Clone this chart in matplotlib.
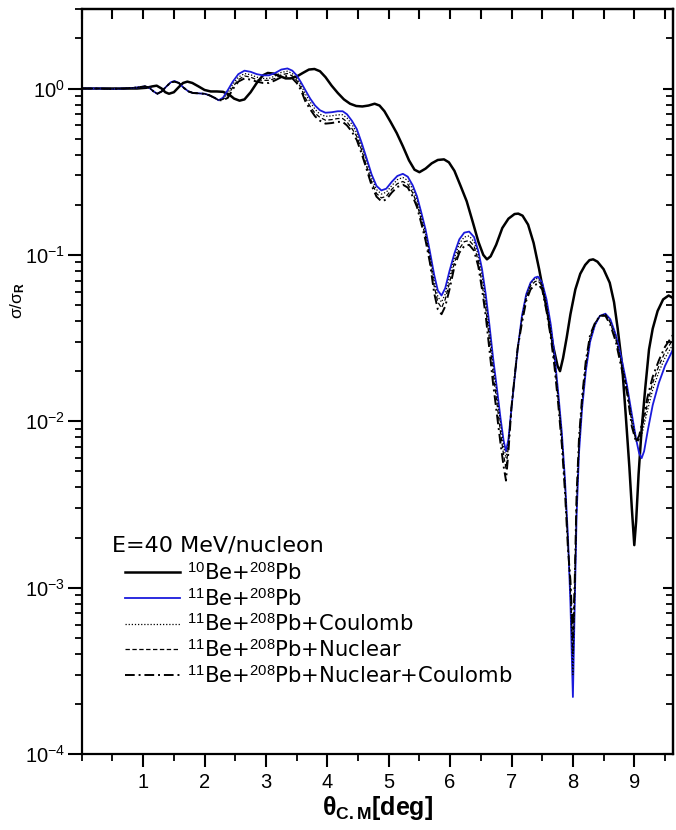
import matplotlib
matplotlib.use("Agg")
import matplotlib.pyplot as plt
from matplotlib.ticker import MultipleLocator, FixedLocator, LogLocator, NullFormatter

plt.rcParams['font.family'] = ['Liberation Sans', 'DejaVu Sans']
plt.rcParams['mathtext.fontset'] = 'custom'
plt.rcParams['mathtext.rm'] = 'Liberation Sans'
plt.rcParams['mathtext.it'] = 'Liberation Sans:italic'
plt.rcParams['mathtext.bf'] = 'Liberation Sans:bold'

# 10Be + 208Pb
x_be10 = [0.0, 0.3, 0.6, 0.9, 1.05, 1.15, 1.22, 1.3, 1.36, 1.42,
          1.5, 1.58, 1.65, 1.72, 1.8, 1.9, 2.0, 2.1, 2.2, 2.3,
          2.4, 2.48, 2.57, 2.65, 2.75, 2.85, 2.95, 3.03, 3.12, 3.22,
          3.32, 3.4, 3.5, 3.6, 3.7, 3.79, 3.88, 3.97, 4.07, 4.17,
          4.27, 4.37, 4.47, 4.57, 4.67, 4.77, 4.85, 4.93, 5.03, 5.13,
          5.23, 5.33, 5.42, 5.5, 5.6, 5.7, 5.8, 5.9, 5.98, 6.07,
          6.17, 6.27, 6.37, 6.46, 6.54, 6.6, 6.66, 6.75, 6.85, 6.95,
          7.05, 7.11, 7.18, 7.27, 7.36, 7.45, 7.52, 7.6, 7.68, 7.75,
          7.79, 7.84, 7.9, 7.96, 8.04, 8.12, 8.2, 8.27, 8.33, 8.4,
          8.5, 8.6, 8.67, 8.73, 8.8, 8.86, 8.92, 8.96, 9.0, 9.03,
          9.07, 9.12, 9.18, 9.24, 9.3, 9.38, 9.47, 9.56, 9.63]
y_be10 = [1.0, 1.0, 1.0, 1.0, 1.01, 1.03, 1.04, 1.0, 0.95, 0.93,
          0.95, 1.02, 1.08, 1.10, 1.08, 1.03, 0.98, 0.96, 0.96, 0.955,
          0.92, 0.87, 0.845, 0.86, 0.95, 1.08, 1.2, 1.24, 1.23, 1.19,
          1.15, 1.15, 1.18, 1.24, 1.3, 1.31, 1.27, 1.17, 1.04, 0.94,
          0.86, 0.81, 0.785, 0.78, 0.79, 0.81, 0.79, 0.73, 0.63, 0.54,
          0.45, 0.37, 0.325, 0.314, 0.33, 0.355, 0.372, 0.375, 0.36, 0.32,
          0.26, 0.21, 0.157, 0.12, 0.1, 0.094, 0.098, 0.115, 0.145, 0.165,
          0.176, 0.177, 0.172, 0.152, 0.118, 0.082, 0.06, 0.042, 0.028, 0.0215,
          0.020, 0.024, 0.032, 0.044, 0.062, 0.077, 0.087, 0.093, 0.094, 0.091,
          0.082, 0.068, 0.052, 0.036, 0.022, 0.011, 0.0053, 0.003, 0.0018, 0.0025,
          0.0048, 0.009, 0.016, 0.027, 0.036, 0.046, 0.054, 0.057, 0.055]

# 11Be + 208Pb family, shared angle grid
x_be11 = [0.0, 0.3, 0.5, 0.7, 0.85, 0.95, 1.03, 1.1, 1.17, 1.23,
          1.3, 1.38, 1.45, 1.51, 1.58, 1.66, 1.74, 1.81, 1.9, 2.0,
          2.08, 2.16, 2.23, 2.3, 2.38, 2.46, 2.55, 2.65, 2.75, 2.85,
          2.95, 3.05, 3.15, 3.25, 3.35, 3.43, 3.5, 3.57, 3.64, 3.72,
          3.8, 3.88, 3.97, 4.07, 4.17, 4.25, 4.32, 4.4, 4.48, 4.56,
          4.64, 4.72, 4.8, 4.88, 4.96, 5.05, 5.14, 5.23, 5.31, 5.39,
          5.46, 5.53, 5.6, 5.67, 5.74, 5.8, 5.86, 5.92, 5.99, 6.07,
          6.15, 6.23, 6.31, 6.39, 6.46, 6.52, 6.58, 6.64, 6.7, 6.76,
          6.82, 6.87, 6.91, 6.95, 7.0, 7.05, 7.1, 7.17, 7.24, 7.31,
          7.38, 7.43, 7.5, 7.57, 7.64, 7.7, 7.76, 7.82, 7.87, 7.92,
          7.96, 8.0, 8.03, 8.06, 8.1, 8.15, 8.21, 8.28, 8.36, 8.44,
          8.53, 8.61, 8.7, 8.79, 8.88, 8.96, 9.03, 9.08, 9.12, 9.16,
          9.22, 9.3, 9.4, 9.5, 9.63]
y_be11 = [1.0, 1.0, 0.995, 1.0, 1.01, 1.02, 1.03, 1.01, 0.96, 0.93,
          0.96, 1.03, 1.09, 1.11, 1.08, 1.01, 0.96, 0.94, 0.935, 0.93,
          0.91, 0.88, 0.85, 0.88, 0.98, 1.1, 1.22, 1.28, 1.26, 1.22,
          1.2, 1.2, 1.24, 1.3, 1.32, 1.28, 1.2, 1.09, 0.98, 0.87,
          0.79, 0.74, 0.715, 0.72, 0.73, 0.73, 0.7, 0.64, 0.57, 0.47,
          0.38, 0.305, 0.26, 0.244, 0.25, 0.275, 0.298, 0.307, 0.295, 0.262,
          0.225, 0.18, 0.142, 0.105, 0.076, 0.061, 0.057, 0.063, 0.08, 0.102,
          0.124, 0.136, 0.138, 0.128, 0.105, 0.082, 0.058, 0.038, 0.024, 0.016,
          0.0105, 0.0077, 0.0066, 0.0078, 0.012, 0.018, 0.027, 0.043, 0.058, 0.068,
          0.073, 0.074, 0.068, 0.054, 0.038, 0.025, 0.015, 0.0085, 0.0045, 0.002,
          0.0008, 0.00022, 0.0008, 0.0027, 0.0065, 0.012, 0.02, 0.03, 0.038, 0.043,
          0.0443, 0.041, 0.033, 0.024, 0.0165, 0.011, 0.0078, 0.0064, 0.006, 0.0066,
          0.0088, 0.0125, 0.017, 0.0215, 0.027]
y_coul = [1.0, 1.0, 0.995, 1.0, 1.01, 1.02, 1.03, 1.01, 0.96, 0.93,
          0.96, 1.03, 1.09, 1.1, 1.08, 1.01, 0.96, 0.94, 0.935, 0.93,
          0.91, 0.88, 0.85, 0.87, 0.94, 1.06, 1.17, 1.23, 1.21, 1.17,
          1.15, 1.15, 1.19, 1.25, 1.27, 1.23, 1.15, 1.05, 0.93, 0.83,
          0.75, 0.70, 0.68, 0.685, 0.695, 0.695, 0.665, 0.61, 0.54, 0.445,
          0.36, 0.29, 0.247, 0.232, 0.238, 0.261, 0.283, 0.292, 0.28, 0.249,
          0.214, 0.171, 0.135, 0.1, 0.07, 0.056, 0.052, 0.058, 0.074, 0.096,
          0.117, 0.128, 0.13, 0.12, 0.099, 0.075, 0.053, 0.035, 0.022, 0.0147,
          0.0097, 0.0071, 0.006, 0.0075, 0.0122, 0.0184, 0.0275, 0.042, 0.057, 0.067,
          0.072, 0.072, 0.067, 0.051, 0.036, 0.0238, 0.0143, 0.0081, 0.0043, 0.0019,
          0.0009, 0.0003, 0.0009, 0.003, 0.007, 0.0127, 0.021, 0.031, 0.038, 0.043,
          0.044, 0.04, 0.032, 0.023, 0.016, 0.0105, 0.0078, 0.0076, 0.0082, 0.0095,
          0.0118, 0.0155, 0.0198, 0.024, 0.029]
y_nucl = [1.0, 1.0, 0.995, 1.0, 1.01, 1.02, 1.03, 1.01, 0.96, 0.93,
          0.96, 1.03, 1.09, 1.1, 1.08, 1.01, 0.96, 0.94, 0.935, 0.93,
          0.91, 0.88, 0.85, 0.86, 0.91, 1.02, 1.13, 1.19, 1.17, 1.13,
          1.12, 1.12, 1.15, 1.21, 1.23, 1.19, 1.12, 1.01, 0.88, 0.78,
          0.71, 0.67, 0.645, 0.65, 0.66, 0.66, 0.63, 0.575, 0.515, 0.425,
          0.34, 0.275, 0.234, 0.22, 0.225, 0.248, 0.268, 0.276, 0.266, 0.236,
          0.203, 0.162, 0.128, 0.095, 0.065, 0.052, 0.048, 0.054, 0.068, 0.09,
          0.109, 0.12, 0.122, 0.113, 0.092, 0.067, 0.048, 0.031, 0.0197, 0.0131,
          0.0086, 0.0063, 0.0052, 0.0071, 0.0122, 0.0184, 0.0275, 0.041, 0.055, 0.065,
          0.069, 0.07, 0.065, 0.049, 0.034, 0.0225, 0.0135, 0.0077, 0.0041, 0.0018,
          0.001, 0.0004, 0.001, 0.0033, 0.0075, 0.0134, 0.022, 0.032, 0.039, 0.043,
          0.044, 0.039, 0.031, 0.022, 0.0155, 0.0098, 0.0076, 0.0078, 0.0088, 0.0103,
          0.013, 0.017, 0.0215, 0.026, 0.031]
y_both = [1.0, 1.0, 0.995, 1.0, 1.01, 1.02, 1.03, 1.01, 0.96, 0.93,
          0.96, 1.03, 1.09, 1.1, 1.08, 1.01, 0.96, 0.94, 0.935, 0.93,
          0.91, 0.88, 0.85, 0.85, 0.88, 0.99, 1.1, 1.15, 1.13, 1.1,
          1.08, 1.08, 1.12, 1.17, 1.19, 1.15, 1.08, 0.98, 0.84, 0.75,
          0.68, 0.64, 0.615, 0.62, 0.63, 0.63, 0.6, 0.55, 0.49, 0.405,
          0.327, 0.262, 0.224, 0.21, 0.215, 0.237, 0.256, 0.264, 0.254, 0.225,
          0.194, 0.155, 0.122, 0.09, 0.059, 0.047, 0.044, 0.049, 0.062, 0.085,
          0.103, 0.113, 0.115, 0.106, 0.085, 0.062, 0.043, 0.027, 0.0168, 0.0112,
          0.0074, 0.0054, 0.0044, 0.0066, 0.0122, 0.0184, 0.0275, 0.039, 0.053, 0.062,
          0.066, 0.067, 0.062, 0.046, 0.032, 0.0213, 0.0128, 0.0072, 0.0038, 0.0017,
          0.0011, 0.0005, 0.0011, 0.0036, 0.008, 0.014, 0.023, 0.033, 0.039, 0.043,
          0.043, 0.038, 0.03, 0.021, 0.015, 0.0093, 0.0075, 0.0082, 0.0095, 0.0112,
          0.0142, 0.0185, 0.0232, 0.028, 0.033]

labels = [r'$^{10}$Be+$^{208}$Pb', r'$^{11}$Be+$^{208}$Pb', r'$^{11}$Be+$^{208}$Pb+Coulomb',
          r'$^{11}$Be+$^{208}$Pb+Nuclear', r'$^{11}$Be+$^{208}$Pb+Nuclear+Coulomb']
x_ticks = [1, 2, 3, 4, 5, 6, 7, 8, 9]

fig = plt.figure(figsize=(6.76, 8.3), dpi=100)
ax = fig.add_axes([0.121, 0.0916, 0.8745, 0.8974])

ax.plot(x_be10, y_be10, color='black', lw=1.8, label=labels[0])
ax.plot(x_be11, y_be11, color='#1a1adc', lw=1.3, label=labels[1])
ax.plot(x_be11, y_coul, color='black', lw=0.9, ls=(0, (1, 1.5)), label=labels[2])
ax.plot(x_be11, y_nucl, color='black', lw=0.9, ls=(0, (3.5, 2)), label=labels[3])
ax.plot(x_be11, y_both, color='black', lw=1.4, ls=(0, (5, 2, 1, 2)), label=labels[4])

ax.set_yscale('log')
ax.set_xlim(0, 9.63)
ax.set_ylim(1e-4, 3)

ax.xaxis.set_major_locator(FixedLocator(x_ticks))
ax.xaxis.set_minor_locator(MultipleLocator(0.5))
ax.yaxis.set_major_locator(LogLocator(base=10, numticks=10))
ax.yaxis.set_minor_locator(LogLocator(base=10, subs=range(2, 10), numticks=20))
ax.yaxis.set_minor_formatter(NullFormatter())

ax.tick_params(axis='both', which='major', labelsize=14.5, width=1.5)
ax.tick_params(axis='both', which='minor', width=1.3)
ax.tick_params(axis='x', which='major', direction='out', length=9, pad=5, top=False)
ax.tick_params(axis='x', which='minor', direction='out', length=5, top=False)
ax.tick_params(axis='y', which='major', direction='out', length=10, pad=2, right=False)
ax.tick_params(axis='y', which='minor', direction='out', length=5, right=False)

# inner ticks on top and right
ax_top = ax.secondary_xaxis('top')
ax_top.xaxis.set_major_locator(FixedLocator(x_ticks))
ax_top.xaxis.set_minor_locator(MultipleLocator(0.5))
ax_top.tick_params(which='both', direction='in', length=7, width=1.5, labeltop=False)
ax_right = ax.secondary_yaxis('right')
ax_right.yaxis.set_major_locator(LogLocator(base=10, numticks=10))
ax_right.yaxis.set_minor_locator(LogLocator(base=10, subs=range(2, 10), numticks=20))
ax_right.yaxis.set_minor_formatter(NullFormatter())
ax_right.tick_params(which='major', direction='in', length=7, width=1.5, labelright=False)
ax_right.tick_params(which='minor', direction='in', length=5, width=1.3)

for sp in ax.spines.values():
    sp.set_linewidth(1.6)
ax_top.spines['top'].set_linewidth(1.6)
ax_right.spines['right'].set_linewidth(1.6)

ax.set_xlabel('θ$_{\\mathbf{C.M}}$[deg]', fontsize=18, fontweight='bold', labelpad=1)
ax.set_ylabel('σ/σ$_{\\mathbf{R}}$', fontsize=12.5)
ax.yaxis.set_label_coords(-0.093, 0.609)

ax.text(0.051, 0.2805, 'E=40 MeV/nucleon', transform=ax.transAxes, fontsize=16,
        family='DejaVu Sans', ha='left', va='center')
leg = ax.legend(loc='upper left', bbox_to_anchor=(0.073, 0.258), frameon=False,
                prop={'family': 'DejaVu Sans', 'size': 15.2},
                handlelength=2.6, handletextpad=0.35, labelspacing=0.18,
                borderpad=0, borderaxespad=0)

fig.savefig('out.png', dpi=100)
